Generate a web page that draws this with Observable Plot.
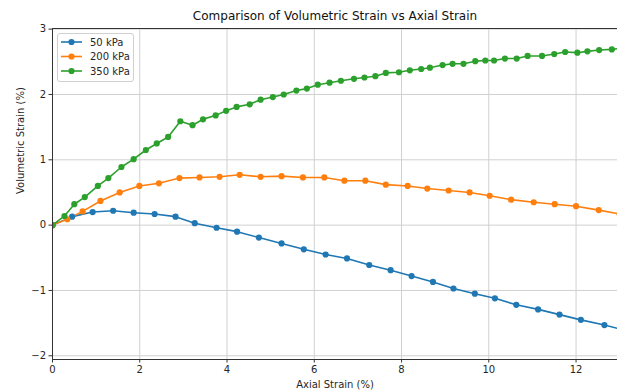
<!DOCTYPE html>
<html><head><meta charset="utf-8">
<script src="https://cdn.jsdelivr.net/npm/d3@7"></script>
<script src="https://cdn.jsdelivr.net/npm/@observablehq/plot@0.6"></script>
<style>
body{margin:0;background:#fff;}
#wrap{position:relative;width:617px;height:391px;font-family:"DejaVu Sans",sans-serif;}
#legend{position:absolute;left:57px;top:33px;width:77px;height:49px;border:1px solid #d0d0d0;border-radius:3px;background:rgba(255,255,255,0.85);box-sizing:border-box;}
</style></head><body><div id="wrap"></div>
<script>
const seriesNames = ["50 kPa", "200 kPa", "350 kPa"];
const seriesColors = ["#1f77b4", "#ff7f0e", "#2ca02c"];

const strain50 = [0, 0.45, 0.92, 1.39, 1.86, 2.34, 2.82, 3.26, 3.76, 4.23, 4.73, 5.25, 5.76, 6.26, 6.75, 7.26, 7.75, 8.23, 8.72, 9.19, 9.68, 10.14, 10.63, 11.13, 11.62, 12.11, 12.65, 13.13];
const vol50 = [0, 0.13, 0.20, 0.22, 0.19, 0.17, 0.13, 0.03, -0.04, -0.10, -0.19, -0.28, -0.37, -0.45, -0.51, -0.61, -0.69, -0.78, -0.87, -0.97, -1.05, -1.12, -1.22, -1.29, -1.37, -1.45, -1.53, -1.61];

const strain200 = [0, 0.34, 0.69, 1.10, 1.54, 1.99, 2.44, 2.91, 3.37, 3.83, 4.29, 4.77, 5.25, 5.74, 6.23, 6.69, 7.17, 7.64, 8.14, 8.59, 9.08, 9.56, 10.02, 10.51, 11.03, 11.51, 12.0, 12.52, 13.0];
const vol200 = [0, 0.09, 0.21, 0.37, 0.50, 0.60, 0.64, 0.72, 0.73, 0.74, 0.77, 0.74, 0.75, 0.73, 0.73, 0.68, 0.68, 0.62, 0.60, 0.56, 0.53, 0.50, 0.45, 0.39, 0.35, 0.32, 0.29, 0.23, 0.17];

const strain350 = [0, 0.275, 0.50, 0.74, 1.04, 1.28, 1.58, 1.86, 2.14, 2.39, 2.65, 2.93, 3.21, 3.45, 3.74, 3.98, 4.22, 4.52, 4.77, 5.05, 5.30, 5.59, 5.83, 6.08, 6.35, 6.61, 6.91, 7.15, 7.40, 7.64, 7.94, 8.19, 8.45, 8.65, 8.94, 9.17, 9.42, 9.69, 9.92, 10.12, 10.37, 10.64, 10.89, 11.22, 11.50, 11.75, 12.03, 12.26, 12.53, 12.82, 13.08];
const vol350 = [0, 0.14, 0.32, 0.43, 0.60, 0.72, 0.89, 1.01, 1.15, 1.25, 1.35, 1.59, 1.53, 1.62, 1.68, 1.75, 1.81, 1.85, 1.92, 1.96, 2.00, 2.06, 2.09, 2.15, 2.18, 2.21, 2.24, 2.26, 2.28, 2.33, 2.34, 2.37, 2.39, 2.41, 2.45, 2.47, 2.47, 2.51, 2.52, 2.52, 2.55, 2.55, 2.59, 2.59, 2.62, 2.65, 2.64, 2.66, 2.68, 2.69, 2.71];

const xTicks = [0, 2, 4, 6, 8, 10, 12];
const yTicks = [-2, -1, 0, 1, 2, 3];
const xDomain = [0, 12.95];
const yDomain = [-2.057, 3.01];

const titleText = "Comparison of Volumetric Strain vs Axial Strain";
const xLabel = "Axial Strain (%)";
const yLabel = "Volumetric Strain (%)";

const allX = [strain50, strain200, strain350];
const allY = [vol50, vol200, vol350];
const data = [];
seriesNames.forEach((s, i) => allX[i].forEach((x, j) => data.push({series: s, x, y: allY[i][j]})));

const fmt = d => (d < 0 ? "\u2212" + Math.abs(d) : String(d));

const chart = Plot.plot({
  width: 617, height: 391,
  marginLeft: 52, marginRight: 0, marginTop: 28, marginBottom: 32,
  style: {fontFamily: "'DejaVu Sans', sans-serif", fontSize: "10px", color: "#262626", background: "#fff", overflow: "visible"},
  x: {domain: xDomain},
  y: {domain: yDomain},
  color: {domain: seriesNames, range: seriesColors},
  marks: [
    Plot.gridX(xTicks, {stroke: "#d0d0d0", strokeOpacity: 1, strokeWidth: 1}),
    Plot.gridY(yTicks, {stroke: "#d0d0d0", strokeOpacity: 1, strokeWidth: 1}),
    Plot.line(data, {x: "x", y: "y", z: "series", stroke: "series", strokeWidth: 1.6, clip: true}),
    Plot.dot(data, {x: "x", y: "y", fill: "series", r: 3.1, clip: true}),
    Plot.ruleX([xDomain[0]], {stroke: "#333", strokeWidth: 1}),
    Plot.ruleY(yDomain, {stroke: "#333", strokeWidth: 1}),
    Plot.axisX({ticks: xTicks, tickFormat: fmt, tickSize: 3.5, tickPadding: 3, label: null, stroke: "#333"}),
    Plot.axisY({ticks: yTicks, tickFormat: fmt, tickSize: 3.5, tickPadding: 3, label: null, stroke: "#333"}),
    Plot.text([titleText], {text: d => d, frameAnchor: "top", dy: -12, fontSize: 12, fill: "#111", lineAnchor: "middle"}),
    Plot.text([xLabel], {text: d => d, frameAnchor: "bottom", dy: 25.6, fontSize: 10, lineAnchor: "middle"}),
    Plot.text([yLabel], {text: d => d, frameAnchor: "left", dx: -32, rotate: -90, fontSize: 10, lineAnchor: "middle"})
  ]
});

const wrap = document.getElementById("wrap");
wrap.appendChild(chart);

const legend = d3.select(wrap).append("div").attr("id", "legend");
const lsvg = legend.append("svg").attr("width", 77).attr("height", 49).style("position", "absolute").style("left", "-1px").style("top", "-1px");
const rowY = [9, 23.5, 38];
seriesNames.forEach((name, i) => {
  const g = lsvg.append("g").attr("transform", `translate(0,${rowY[i]})`);
  g.append("line").attr("x1", 4).attr("x2", 25).attr("y1", 0).attr("y2", 0).attr("stroke", seriesColors[i]).attr("stroke-width", 1.6);
  g.append("circle").attr("cx", 14.5).attr("cy", 0).attr("r", 3.1).attr("fill", seriesColors[i]);
  g.append("text").attr("x", 33).attr("y", 0).attr("dy", "0.35em").attr("font-size", 10).attr("fill", "#262626").attr("font-family", "'DejaVu Sans', sans-serif").text(name);
});
</script>
</body></html>
